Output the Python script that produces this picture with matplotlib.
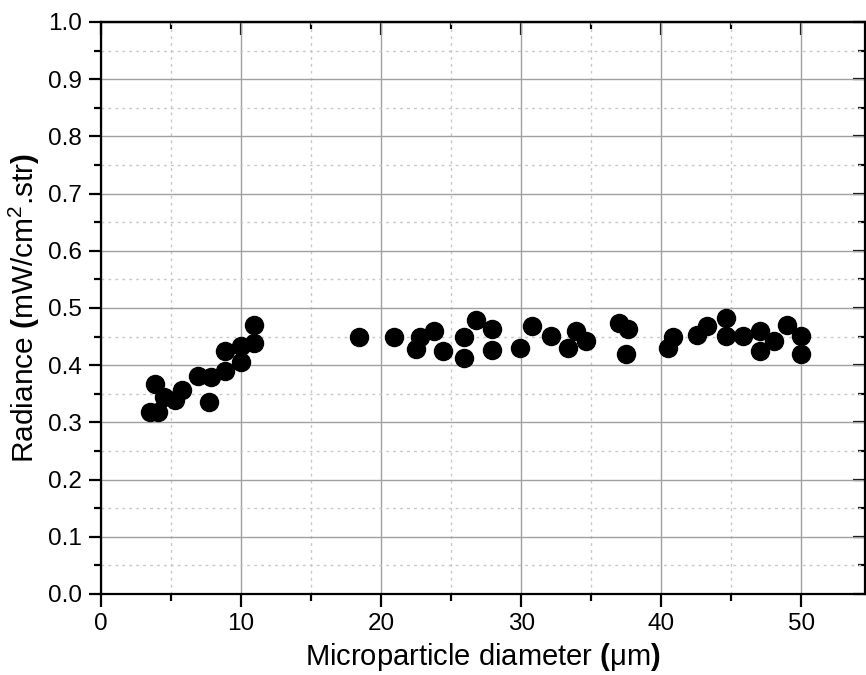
import matplotlib
matplotlib.use("Agg")
import matplotlib.pyplot as plt
from matplotlib.ticker import MultipleLocator

plt.rcParams['font.family'] = ['Liberation Sans', 'DejaVu Sans']
plt.rcParams['mathtext.fontset'] = 'custom'
plt.rcParams['mathtext.rm'] = 'Liberation Sans'
plt.rcParams['mathtext.bf'] = 'Liberation Sans:bold'
plt.rcParams['mathtext.it'] = 'Liberation Sans:italic'

diameter = [3.5, 4.1, 3.85, 4.5, 5.3, 5.8, 6.95, 7.85, 7.7, 8.85, 8.85, 10.0, 10.0, 10.9, 10.9,
            18.45, 20.95, 22.75, 22.5, 23.8, 24.45, 25.9, 25.9, 26.8, 27.95, 27.95,
            29.9, 30.8, 32.15, 33.35, 33.9, 34.6, 37.0, 37.6, 37.5,
            40.85, 40.5, 42.55, 43.3, 44.65, 44.65, 45.85, 47.05, 47.05, 48.05, 48.95, 50.0, 50.0]
radiance = [0.319, 0.318, 0.368, 0.345, 0.339, 0.357, 0.381, 0.380, 0.336, 0.389, 0.425, 0.406, 0.434, 0.438, 0.470,
            0.450, 0.450, 0.449, 0.428, 0.460, 0.424, 0.450, 0.412, 0.479, 0.464, 0.427,
            0.430, 0.469, 0.451, 0.430, 0.460, 0.442, 0.473, 0.464, 0.420,
            0.449, 0.430, 0.452, 0.469, 0.482, 0.451, 0.451, 0.460, 0.424, 0.442, 0.470, 0.451, 0.420]

fig = plt.figure(figsize=(8.66, 6.75), dpi=100)
ax = fig.add_axes([101/866, 81/675, 764/866, 572/675])

ax.plot(diameter, radiance, 'o', color='black', markersize=13, zorder=3, clip_on=False)

ax.set_xlim(0, 54.55)
ax.set_ylim(0, 1.0)
ax.xaxis.set_major_locator(MultipleLocator(10))
ax.xaxis.set_minor_locator(MultipleLocator(5))
ax.yaxis.set_major_locator(MultipleLocator(0.1))
ax.yaxis.set_minor_locator(MultipleLocator(0.05))
ax.yaxis.set_major_formatter(matplotlib.ticker.FormatStrFormatter('%.1f'))

ax.grid(which='major', color='#a0a0a0', linewidth=1.0, linestyle='-')
ax.grid(which='minor', color='#c8c8c8', linewidth=1.0, linestyle=(0, (2, 3)))
ax.set_axisbelow(True)

for s in ax.spines.values():
    s.set_linewidth(1.6)

ax.tick_params(which='major', direction='out', length=9, width=1.6, labelsize=17.5,
               bottom=True, left=True, top=False, right=False, pad=5)
ax.tick_params(which='minor', direction='out', length=5, width=1.6,
               bottom=True, left=True, top=False, right=False)
# inward ticks on top and right
axt = ax.secondary_xaxis('top')
axt.xaxis.set_major_locator(MultipleLocator(10))
axt.xaxis.set_minor_locator(MultipleLocator(5))
axt.tick_params(which='major', direction='in', length=9, width=1.6, labeltop=False)
axt.tick_params(which='minor', direction='in', length=5, width=1.6)
axt.spines['top'].set_linewidth(1.6)
axr = ax.secondary_yaxis('right')
axr.yaxis.set_major_locator(MultipleLocator(0.1))
axr.yaxis.set_minor_locator(MultipleLocator(0.05))
axr.tick_params(which='major', direction='in', length=9, width=1.6, labelright=False)
axr.tick_params(which='minor', direction='in', length=5, width=1.6)

ax.set_xlabel(r"Microparticle diameter $\mathbf{(}$μm$\mathbf{)}$", fontsize=21, labelpad=4)
ax.set_ylabel(r"Radiance $\mathbf{(}$mW/cm$^{2}$.str$\mathbf{)}$", fontsize=21.5, labelpad=4)

fig.savefig("out.png", dpi=100)
